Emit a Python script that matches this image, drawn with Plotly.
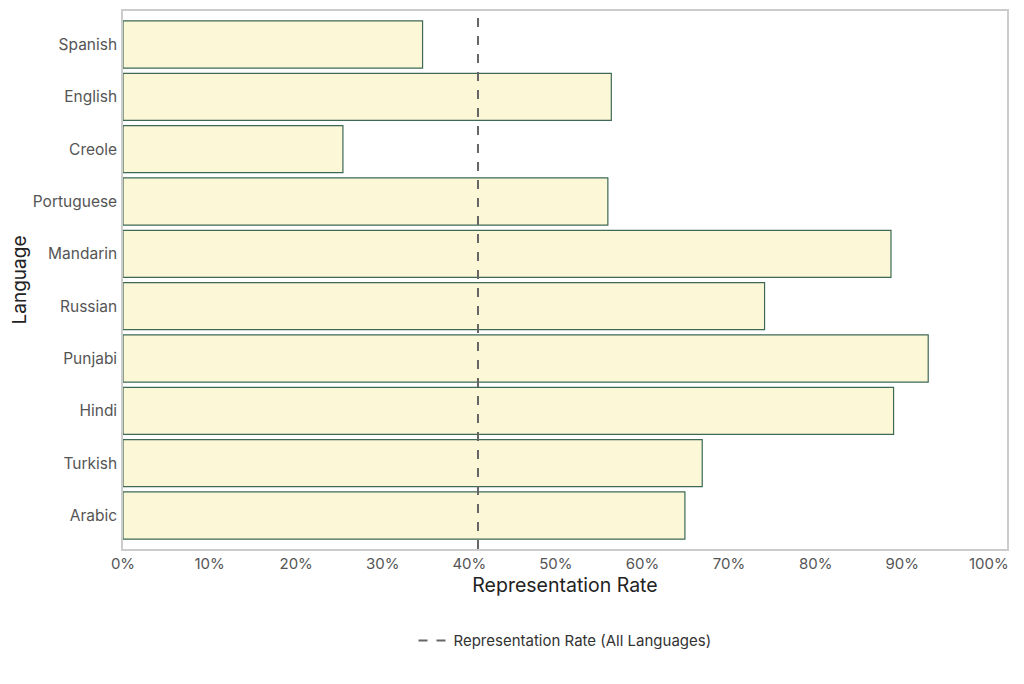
import plotly.graph_objects as go

languages = ['Spanish', 'English', 'Creole', 'Portuguese', 'Mandarin',
             'Russian', 'Punjabi', 'Hindi', 'Turkish', 'Arabic']
rates = [0.346, 0.564, 0.254, 0.560, 0.887, 0.741, 0.930, 0.890, 0.669, 0.649]
overall_rate = 0.410

font_family = "Inter, Lato, sans-serif"

fig = go.Figure()
fig.add_trace(go.Bar(
    x=rates, y=languages, orientation='h',
    marker=dict(color='#FBF7D7', line=dict(color='#3E6A55', width=1.2)),
    showlegend=False,
))

fig.add_shape(
    type='line', x0=overall_rate, x1=overall_rate, y0=0, y1=1,
    xref='x', yref='y domain',
    line=dict(color='#666666', width=2, dash='dash'),
    showlegend=True, name='Representation Rate (All Languages)',
)

fig.update_layout(
    width=1024, height=684,
    margin=dict(l=115, r=25, t=3, b=143),
    plot_bgcolor='white', paper_bgcolor='white',
    font=dict(family=font_family, size=14, color='#555555'),
    bargap=0.1,
    legend=dict(orientation='h', x=0.5, xanchor='center', y=-0.14, yanchor='top',
                font=dict(size=15, color='#333333')),
)
fig.update_xaxes(
    range=[0, 1.021], tickformat='.0%', dtick=0.1, showgrid=False, zeroline=False,
    showline=True, linecolor='#CCCCCC', mirror=True, linewidth=1.5,
    ticks='', tickfont=dict(size=15, color='#555555'), automargin=False,
    title=dict(text='Representation Rate', font=dict(size=19.5, color='#222222'), standoff=7),
)
fig.update_yaxes(
    categoryorder='array', categoryarray=languages[::-1], range=[-0.64, 9.64],
    showgrid=False, zeroline=False, automargin=False,
    showline=True, linecolor='#CCCCCC', mirror=True, linewidth=1.5,
    ticks='', ticklabelstandoff=1, tickfont=dict(size=15.5, color='#555555'),
    title=dict(text='Language', font=dict(size=19, color='#222222'), standoff=10),
)

fig.write_html("out.html")
